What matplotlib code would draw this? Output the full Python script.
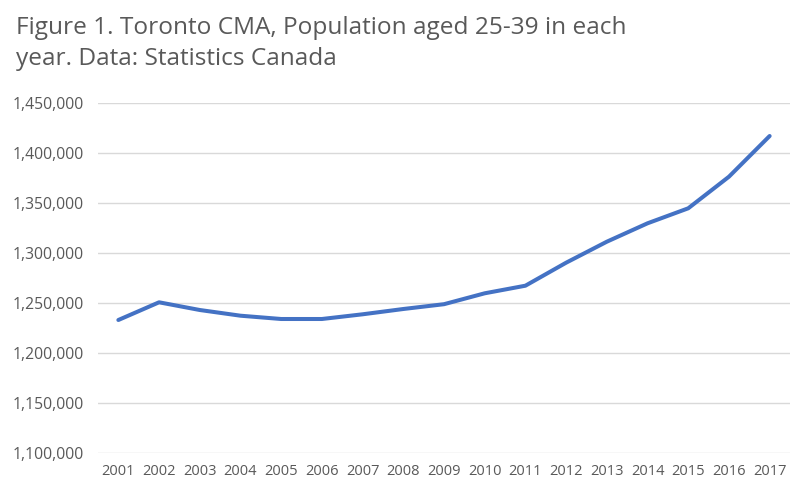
import matplotlib
matplotlib.use('Agg')
import matplotlib.pyplot as plt
from matplotlib.ticker import FuncFormatter

plt.rcParams['font.family'] = ['Open Sans', 'DejaVu Sans']

years = [str(y) for y in range(2001, 2018)]
population = [1232700, 1250400, 1242700, 1237000, 1233700, 1233700, 1238400,
              1243700, 1248500, 1259400, 1267000, 1290000, 1311000, 1329400,
              1344400, 1376000, 1416700]
y_ticks = list(range(1100000, 1450001, 50000))

fig = plt.figure(figsize=(8.05, 4.94), dpi=100)
ax = fig.add_axes([98 / 805, 1 - 452.7 / 494, 692 / 805, 350 / 494])

ax.plot(range(len(years)), population, color='#4472C4', linewidth=2.9,
        solid_capstyle='round', solid_joinstyle='round', zorder=3)

ax.set_xlim(-0.5, len(years) - 0.5)
ax.set_ylim(y_ticks[0], y_ticks[-1])
ax.set_xticks(range(len(years)))
ax.set_xticklabels(years)
ax.set_yticks(y_ticks)
ax.yaxis.set_major_formatter(FuncFormatter(lambda v, p: f'{int(v):,}'))

ax.grid(axis='y', color='#D9D9D9', linewidth=1.0)
ax.set_axisbelow(True)
for s in ax.spines.values():
    s.set_visible(False)
ax.tick_params(axis='x', length=0, labelsize=10.5, labelcolor='#595959', pad=8)
ax.tick_params(axis='y', length=0, labelsize=11.3, labelcolor='#595959', pad=10)

fig.text(16 / 805, 1 - 16.5 / 494,
         'Figure 1. Toronto CMA, Population aged 25-39 in each\nyear. Data: Statistics Canada',
         ha='left', va='top', fontsize=17.6, color='#595959', linespacing=1.36)

fig.savefig('out.png', dpi=100)
